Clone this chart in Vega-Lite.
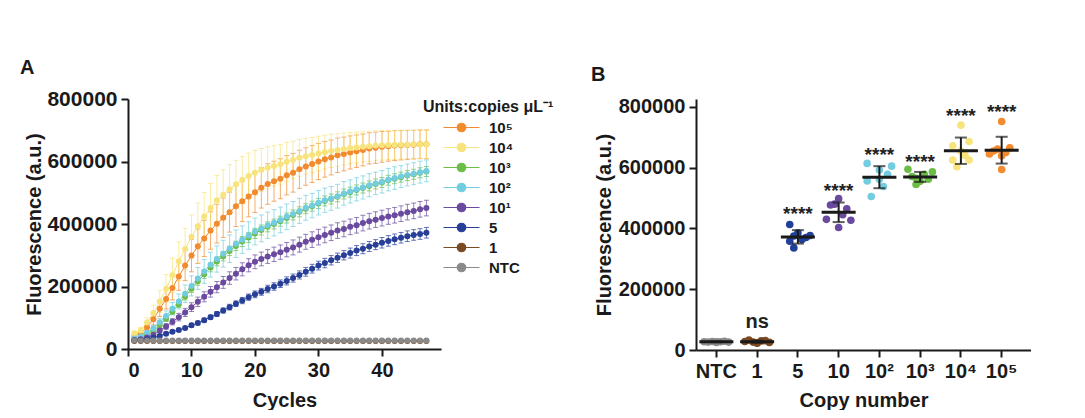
{
  "$schema": "https://vega.github.io/schema/vega-lite/v6.json",
  "background": "white",
  "padding": {"left": 20, "top": 58, "right": 0, "bottom": 0},
  "spacing": 37,
  "datasets": {
    "curves": [
      {"s":"10⁵","c":1,"v":42000,"e":5000},{"s":"10⁵","c":2,"v":50000,"e":8000},{"s":"10⁵","c":3,"v":70000,"e":12000},{"s":"10⁵","c":4,"v":95000,"e":18000},{"s":"10⁵","c":5,"v":129000,"e":25000},{"s":"10⁵","c":6,"v":160000,"e":32000},{"s":"10⁵","c":7,"v":195000,"e":38000},{"s":"10⁵","c":8,"v":232000,"e":44000},{"s":"10⁵","c":9,"v":267000,"e":48000},{"s":"10⁵","c":10,"v":299000,"e":52000},
      {"s":"10⁵","c":11,"v":329000,"e":55000},{"s":"10⁵","c":12,"v":354000,"e":58000},{"s":"10⁵","c":13,"v":379000,"e":60000},{"s":"10⁵","c":14,"v":401000,"e":62000},{"s":"10⁵","c":15,"v":420000,"e":63000},{"s":"10⁵","c":16,"v":438000,"e":64000},{"s":"10⁵","c":17,"v":457000,"e":65000},{"s":"10⁵","c":18,"v":473000,"e":65000},{"s":"10⁵","c":19,"v":488000,"e":65000},{"s":"10⁵","c":20,"v":502000,"e":65000},
      {"s":"10⁵","c":21,"v":516000,"e":65000},{"s":"10⁵","c":22,"v":528000,"e":65000},{"s":"10⁵","c":23,"v":537000,"e":64000},{"s":"10⁵","c":24,"v":545000,"e":64000},{"s":"10⁵","c":25,"v":556000,"e":63000},{"s":"10⁵","c":26,"v":564000,"e":62000},{"s":"10⁵","c":27,"v":575000,"e":61000},{"s":"10⁵","c":28,"v":584000,"e":60000},{"s":"10⁵","c":29,"v":592000,"e":59000},{"s":"10⁵","c":30,"v":600000,"e":58000},
      {"s":"10⁵","c":31,"v":607000,"e":57000},{"s":"10⁵","c":32,"v":613000,"e":56000},{"s":"10⁵","c":33,"v":620000,"e":55000},{"s":"10⁵","c":34,"v":624000,"e":54000},{"s":"10⁵","c":35,"v":629000,"e":53000},{"s":"10⁵","c":36,"v":633000,"e":52000},{"s":"10⁵","c":37,"v":637000,"e":51000},{"s":"10⁵","c":38,"v":642000,"e":50000},{"s":"10⁵","c":39,"v":644000,"e":50000},{"s":"10⁵","c":40,"v":647000,"e":49000},
      {"s":"10⁵","c":41,"v":649000,"e":48000},{"s":"10⁵","c":42,"v":651000,"e":48000},{"s":"10⁵","c":43,"v":652000,"e":47000},{"s":"10⁵","c":44,"v":653000,"e":47000},{"s":"10⁵","c":45,"v":654000,"e":46000},{"s":"10⁵","c":46,"v":655000,"e":46000},{"s":"10⁵","c":47,"v":655000,"e":46000},

      {"s":"10⁴","c":1,"v":50000,"e":8000},{"s":"10⁴","c":2,"v":59000,"e":10000},{"s":"10⁴","c":3,"v":85000,"e":15000},{"s":"10⁴","c":4,"v":115000,"e":25000},{"s":"10⁴","c":5,"v":152000,"e":35000},{"s":"10⁴","c":6,"v":193000,"e":45000},{"s":"10⁴","c":7,"v":236000,"e":55000},{"s":"10⁴","c":8,"v":281000,"e":62000},{"s":"10⁴","c":9,"v":320000,"e":66000},{"s":"10⁴","c":10,"v":359000,"e":70000},
      {"s":"10⁴","c":11,"v":393000,"e":74000},{"s":"10⁴","c":12,"v":424000,"e":77000},{"s":"10⁴","c":13,"v":451000,"e":79000},{"s":"10⁴","c":14,"v":476000,"e":80000},{"s":"10⁴","c":15,"v":494000,"e":80000},{"s":"10⁴","c":16,"v":511000,"e":79000},{"s":"10⁴","c":17,"v":527000,"e":77000},{"s":"10⁴","c":18,"v":541000,"e":75000},{"s":"10⁴","c":19,"v":554000,"e":73000},{"s":"10⁴","c":20,"v":564000,"e":71000},
      {"s":"10⁴","c":21,"v":573000,"e":69000},{"s":"10⁴","c":22,"v":580000,"e":67000},{"s":"10⁴","c":23,"v":586000,"e":65000},{"s":"10⁴","c":24,"v":591000,"e":63000},{"s":"10⁴","c":25,"v":599000,"e":62000},{"s":"10⁴","c":26,"v":605000,"e":60000},{"s":"10⁴","c":27,"v":612000,"e":59000},{"s":"10⁴","c":28,"v":617000,"e":57000},{"s":"10⁴","c":29,"v":621000,"e":56000},{"s":"10⁴","c":30,"v":626000,"e":55000},
      {"s":"10⁴","c":31,"v":630000,"e":54000},{"s":"10⁴","c":32,"v":634000,"e":53000},{"s":"10⁴","c":33,"v":637000,"e":52000},{"s":"10⁴","c":34,"v":640000,"e":51000},{"s":"10⁴","c":35,"v":643000,"e":50000},{"s":"10⁴","c":36,"v":645000,"e":49000},{"s":"10⁴","c":37,"v":647000,"e":48000},{"s":"10⁴","c":38,"v":649000,"e":48000},{"s":"10⁴","c":39,"v":651000,"e":47000},{"s":"10⁴","c":40,"v":652000,"e":47000},
      {"s":"10⁴","c":41,"v":653000,"e":46000},{"s":"10⁴","c":42,"v":653000,"e":46000},{"s":"10⁴","c":43,"v":654000,"e":46000},{"s":"10⁴","c":44,"v":654000,"e":45000},{"s":"10⁴","c":45,"v":655000,"e":45000},{"s":"10⁴","c":46,"v":655000,"e":45000},{"s":"10⁴","c":47,"v":655000,"e":45000},

      {"s":"10³","c":1,"v":30000,"e":2000},{"s":"10³","c":2,"v":35000,"e":3000},{"s":"10³","c":3,"v":45000,"e":4000},{"s":"10³","c":4,"v":58000,"e":5000},{"s":"10³","c":5,"v":77000,"e":7000},{"s":"10³","c":6,"v":97000,"e":8000},{"s":"10³","c":7,"v":120000,"e":9000},{"s":"10³","c":8,"v":143000,"e":10000},{"s":"10³","c":9,"v":168000,"e":11000},{"s":"10³","c":10,"v":193000,"e":12000},
      {"s":"10³","c":11,"v":217000,"e":13000},{"s":"10³","c":12,"v":239000,"e":13000},{"s":"10³","c":13,"v":261000,"e":14000},{"s":"10³","c":14,"v":280000,"e":14000},{"s":"10³","c":15,"v":297000,"e":15000},{"s":"10³","c":16,"v":314000,"e":15000},{"s":"10³","c":17,"v":330000,"e":15000},{"s":"10³","c":18,"v":344000,"e":16000},{"s":"10³","c":19,"v":357000,"e":16000},{"s":"10³","c":20,"v":370000,"e":16000},
      {"s":"10³","c":21,"v":381000,"e":16000},{"s":"10³","c":22,"v":391000,"e":16000},{"s":"10³","c":23,"v":400000,"e":16000},{"s":"10³","c":24,"v":409000,"e":16000},{"s":"10³","c":25,"v":419000,"e":16000},{"s":"10³","c":26,"v":429000,"e":16000},{"s":"10³","c":27,"v":439000,"e":16000},{"s":"10³","c":28,"v":449000,"e":16000},{"s":"10³","c":29,"v":457000,"e":16000},{"s":"10³","c":30,"v":466000,"e":16000},
      {"s":"10³","c":31,"v":474000,"e":16000},{"s":"10³","c":32,"v":480000,"e":16000},{"s":"10³","c":33,"v":487000,"e":16000},{"s":"10³","c":34,"v":496000,"e":16000},{"s":"10³","c":35,"v":502000,"e":16000},{"s":"10³","c":36,"v":509000,"e":16000},{"s":"10³","c":37,"v":515000,"e":16000},{"s":"10³","c":38,"v":522000,"e":16000},{"s":"10³","c":39,"v":528000,"e":16000},{"s":"10³","c":40,"v":533000,"e":16000},
      {"s":"10³","c":41,"v":540000,"e":16000},{"s":"10³","c":42,"v":545000,"e":16000},{"s":"10³","c":43,"v":550000,"e":16000},{"s":"10³","c":44,"v":555000,"e":16000},{"s":"10³","c":45,"v":559000,"e":16000},{"s":"10³","c":46,"v":564000,"e":16000},{"s":"10³","c":47,"v":568000,"e":16000},

      {"s":"10²","c":1,"v":34000,"e":3000},{"s":"10²","c":2,"v":40000,"e":4000},{"s":"10²","c":3,"v":52000,"e":6000},{"s":"10²","c":4,"v":66000,"e":9000},{"s":"10²","c":5,"v":86000,"e":12000},{"s":"10²","c":6,"v":106000,"e":16000},{"s":"10²","c":7,"v":129000,"e":20000},{"s":"10²","c":8,"v":152000,"e":24000},{"s":"10²","c":9,"v":177000,"e":28000},{"s":"10²","c":10,"v":202000,"e":32000},
      {"s":"10²","c":11,"v":226000,"e":35000},{"s":"10²","c":12,"v":248000,"e":38000},{"s":"10²","c":13,"v":270000,"e":40000},{"s":"10²","c":14,"v":288000,"e":42000},{"s":"10²","c":15,"v":305000,"e":43000},{"s":"10²","c":16,"v":321000,"e":44000},{"s":"10²","c":17,"v":337000,"e":44000},{"s":"10²","c":18,"v":350000,"e":44000},{"s":"10²","c":19,"v":363000,"e":44000},{"s":"10²","c":20,"v":376000,"e":43000},
      {"s":"10²","c":21,"v":386000,"e":43000},{"s":"10²","c":22,"v":396000,"e":42000},{"s":"10²","c":23,"v":404000,"e":42000},{"s":"10²","c":24,"v":413000,"e":41000},{"s":"10²","c":25,"v":423000,"e":41000},{"s":"10²","c":26,"v":432000,"e":40000},{"s":"10²","c":27,"v":442000,"e":40000},{"s":"10²","c":28,"v":452000,"e":40000},{"s":"10²","c":29,"v":459000,"e":39000},{"s":"10²","c":30,"v":468000,"e":39000},
      {"s":"10²","c":31,"v":476000,"e":39000},{"s":"10²","c":32,"v":482000,"e":38000},{"s":"10²","c":33,"v":489000,"e":38000},{"s":"10²","c":34,"v":498000,"e":38000},{"s":"10²","c":35,"v":504000,"e":37000},{"s":"10²","c":36,"v":511000,"e":37000},{"s":"10²","c":37,"v":517000,"e":37000},{"s":"10²","c":38,"v":524000,"e":37000},{"s":"10²","c":39,"v":530000,"e":36000},{"s":"10²","c":40,"v":535000,"e":36000},
      {"s":"10²","c":41,"v":542000,"e":36000},{"s":"10²","c":42,"v":547000,"e":36000},{"s":"10²","c":43,"v":552000,"e":35000},{"s":"10²","c":44,"v":557000,"e":35000},{"s":"10²","c":45,"v":561000,"e":35000},{"s":"10²","c":46,"v":566000,"e":35000},{"s":"10²","c":47,"v":570000,"e":35000},

      {"s":"10¹","c":1,"v":29000,"e":2000},{"s":"10¹","c":2,"v":31000,"e":3000},{"s":"10¹","c":3,"v":37000,"e":4000},{"s":"10¹","c":4,"v":45000,"e":5000},{"s":"10¹","c":5,"v":59000,"e":7000},{"s":"10¹","c":6,"v":72000,"e":9000},{"s":"10¹","c":7,"v":87000,"e":10000},{"s":"10¹","c":8,"v":102000,"e":12000},{"s":"10¹","c":9,"v":117000,"e":13000},{"s":"10¹","c":10,"v":134000,"e":14000},
      {"s":"10¹","c":11,"v":151000,"e":15000},{"s":"10¹","c":12,"v":167000,"e":16000},{"s":"10¹","c":13,"v":183000,"e":17000},{"s":"10¹","c":14,"v":198000,"e":18000},{"s":"10¹","c":15,"v":213000,"e":19000},{"s":"10¹","c":16,"v":227000,"e":20000},{"s":"10¹","c":17,"v":241000,"e":20000},{"s":"10¹","c":18,"v":255000,"e":21000},{"s":"10¹","c":19,"v":268000,"e":21000},{"s":"10¹","c":20,"v":279000,"e":22000},
      {"s":"10¹","c":21,"v":288000,"e":22000},{"s":"10¹","c":22,"v":296000,"e":22000},{"s":"10¹","c":23,"v":303000,"e":23000},{"s":"10¹","c":24,"v":310000,"e":23000},{"s":"10¹","c":25,"v":318000,"e":23000},{"s":"10¹","c":26,"v":325000,"e":24000},{"s":"10¹","c":27,"v":334000,"e":24000},{"s":"10¹","c":28,"v":343000,"e":24000},{"s":"10¹","c":29,"v":350000,"e":25000},{"s":"10¹","c":30,"v":358000,"e":25000},
      {"s":"10¹","c":31,"v":365000,"e":25000},{"s":"10¹","c":32,"v":372000,"e":25000},{"s":"10¹","c":33,"v":379000,"e":25000},{"s":"10¹","c":34,"v":384000,"e":25000},{"s":"10¹","c":35,"v":391000,"e":25000},{"s":"10¹","c":36,"v":396000,"e":25000},{"s":"10¹","c":37,"v":403000,"e":25000},{"s":"10¹","c":38,"v":409000,"e":25000},{"s":"10¹","c":39,"v":414000,"e":25000},{"s":"10¹","c":40,"v":419000,"e":25000},
      {"s":"10¹","c":41,"v":424000,"e":25000},{"s":"10¹","c":42,"v":428000,"e":25000},{"s":"10¹","c":43,"v":433000,"e":25000},{"s":"10¹","c":44,"v":438000,"e":25000},{"s":"10¹","c":45,"v":442000,"e":25000},{"s":"10¹","c":46,"v":447000,"e":25000},{"s":"10¹","c":47,"v":451000,"e":25000},

      {"s":"5","c":1,"v":27000,"e":1000},{"s":"5","c":2,"v":28000,"e":2000},{"s":"5","c":3,"v":31000,"e":2000},{"s":"5","c":4,"v":36000,"e":3000},{"s":"5","c":5,"v":42000,"e":3000},{"s":"5","c":6,"v":49000,"e":4000},{"s":"5","c":7,"v":55000,"e":4000},{"s":"5","c":8,"v":61000,"e":5000},{"s":"5","c":9,"v":67000,"e":5000},{"s":"5","c":10,"v":76000,"e":6000},
      {"s":"5","c":11,"v":83000,"e":6000},{"s":"5","c":12,"v":92000,"e":7000},{"s":"5","c":13,"v":102000,"e":7000},{"s":"5","c":14,"v":112000,"e":8000},{"s":"5","c":15,"v":123000,"e":8000},{"s":"5","c":16,"v":134000,"e":9000},{"s":"5","c":17,"v":145000,"e":9000},{"s":"5","c":18,"v":155000,"e":10000},{"s":"5","c":19,"v":166000,"e":10000},{"s":"5","c":20,"v":175000,"e":11000},
      {"s":"5","c":21,"v":183000,"e":11000},{"s":"5","c":22,"v":192000,"e":12000},{"s":"5","c":23,"v":200000,"e":12000},{"s":"5","c":24,"v":209000,"e":12000},{"s":"5","c":25,"v":218000,"e":13000},{"s":"5","c":26,"v":227000,"e":13000},{"s":"5","c":27,"v":237000,"e":13000},{"s":"5","c":28,"v":247000,"e":14000},{"s":"5","c":29,"v":257000,"e":14000},{"s":"5","c":30,"v":267000,"e":14000},
      {"s":"5","c":31,"v":275000,"e":15000},{"s":"5","c":32,"v":284000,"e":15000},{"s":"5","c":33,"v":292000,"e":15000},{"s":"5","c":34,"v":300000,"e":15000},{"s":"5","c":35,"v":307000,"e":16000},{"s":"5","c":36,"v":315000,"e":16000},{"s":"5","c":37,"v":321000,"e":16000},{"s":"5","c":38,"v":328000,"e":16000},{"s":"5","c":39,"v":334000,"e":16000},{"s":"5","c":40,"v":340000,"e":17000},
      {"s":"5","c":41,"v":346000,"e":17000},{"s":"5","c":42,"v":351000,"e":17000},{"s":"5","c":43,"v":356000,"e":17000},{"s":"5","c":44,"v":361000,"e":17000},{"s":"5","c":45,"v":365000,"e":17000},{"s":"5","c":46,"v":368000,"e":17000},{"s":"5","c":47,"v":372000,"e":17000},

      {"s":"1","c":1,"v":26000,"e":2000},{"s":"1","c":2,"v":26000,"e":2000},{"s":"1","c":3,"v":26000,"e":2000},{"s":"1","c":4,"v":26000,"e":2000},{"s":"1","c":5,"v":26000,"e":2000},{"s":"1","c":6,"v":26000,"e":2000},{"s":"1","c":7,"v":26000,"e":2000},{"s":"1","c":8,"v":26000,"e":2000},{"s":"1","c":9,"v":26000,"e":2000},{"s":"1","c":10,"v":26000,"e":2000},
      {"s":"1","c":11,"v":26000,"e":2000},{"s":"1","c":12,"v":26000,"e":2000},{"s":"1","c":13,"v":26000,"e":2000},{"s":"1","c":14,"v":26000,"e":2000},{"s":"1","c":15,"v":26000,"e":2000},{"s":"1","c":16,"v":26000,"e":2000},{"s":"1","c":17,"v":26000,"e":2000},{"s":"1","c":18,"v":26000,"e":2000},{"s":"1","c":19,"v":26000,"e":2000},{"s":"1","c":20,"v":26000,"e":2000},
      {"s":"1","c":21,"v":26000,"e":2000},{"s":"1","c":22,"v":26000,"e":2000},{"s":"1","c":23,"v":26000,"e":2000},{"s":"1","c":24,"v":26000,"e":2000},{"s":"1","c":25,"v":26000,"e":2000},{"s":"1","c":26,"v":26000,"e":2000},{"s":"1","c":27,"v":26000,"e":2000},{"s":"1","c":28,"v":26000,"e":2000},{"s":"1","c":29,"v":26000,"e":2000},{"s":"1","c":30,"v":26000,"e":2000},
      {"s":"1","c":31,"v":26000,"e":2000},{"s":"1","c":32,"v":26000,"e":2000},{"s":"1","c":33,"v":26000,"e":2000},{"s":"1","c":34,"v":26000,"e":2000},{"s":"1","c":35,"v":26000,"e":2000},{"s":"1","c":36,"v":26000,"e":2000},{"s":"1","c":37,"v":26000,"e":2000},{"s":"1","c":38,"v":26000,"e":2000},{"s":"1","c":39,"v":26000,"e":2000},{"s":"1","c":40,"v":26000,"e":2000},
      {"s":"1","c":41,"v":26000,"e":2000},{"s":"1","c":42,"v":26000,"e":2000},{"s":"1","c":43,"v":26000,"e":2000},{"s":"1","c":44,"v":26000,"e":2000},{"s":"1","c":45,"v":26000,"e":2000},{"s":"1","c":46,"v":26000,"e":2000},{"s":"1","c":47,"v":26000,"e":2000},

      {"s":"NTC","c":1,"v":27000,"e":1500},{"s":"NTC","c":2,"v":27000,"e":1500},{"s":"NTC","c":3,"v":27000,"e":1500},{"s":"NTC","c":4,"v":27000,"e":1500},{"s":"NTC","c":5,"v":27000,"e":1500},{"s":"NTC","c":6,"v":27000,"e":1500},{"s":"NTC","c":7,"v":27000,"e":1500},{"s":"NTC","c":8,"v":27000,"e":1500},{"s":"NTC","c":9,"v":27000,"e":1500},{"s":"NTC","c":10,"v":27000,"e":1500},
      {"s":"NTC","c":11,"v":27000,"e":1500},{"s":"NTC","c":12,"v":27000,"e":1500},{"s":"NTC","c":13,"v":27000,"e":1500},{"s":"NTC","c":14,"v":27000,"e":1500},{"s":"NTC","c":15,"v":27000,"e":1500},{"s":"NTC","c":16,"v":27000,"e":1500},{"s":"NTC","c":17,"v":27000,"e":1500},{"s":"NTC","c":18,"v":27000,"e":1500},{"s":"NTC","c":19,"v":27000,"e":1500},{"s":"NTC","c":20,"v":27000,"e":1500},
      {"s":"NTC","c":21,"v":27000,"e":1500},{"s":"NTC","c":22,"v":27000,"e":1500},{"s":"NTC","c":23,"v":27000,"e":1500},{"s":"NTC","c":24,"v":27000,"e":1500},{"s":"NTC","c":25,"v":27000,"e":1500},{"s":"NTC","c":26,"v":27000,"e":1500},{"s":"NTC","c":27,"v":27000,"e":1500},{"s":"NTC","c":28,"v":27000,"e":1500},{"s":"NTC","c":29,"v":27000,"e":1500},{"s":"NTC","c":30,"v":27000,"e":1500},
      {"s":"NTC","c":31,"v":27000,"e":1500},{"s":"NTC","c":32,"v":27000,"e":1500},{"s":"NTC","c":33,"v":27000,"e":1500},{"s":"NTC","c":34,"v":27000,"e":1500},{"s":"NTC","c":35,"v":27000,"e":1500},{"s":"NTC","c":36,"v":27000,"e":1500},{"s":"NTC","c":37,"v":27000,"e":1500},{"s":"NTC","c":38,"v":27000,"e":1500},{"s":"NTC","c":39,"v":27000,"e":1500},{"s":"NTC","c":40,"v":27000,"e":1500},
      {"s":"NTC","c":41,"v":27000,"e":1500},{"s":"NTC","c":42,"v":27000,"e":1500},{"s":"NTC","c":43,"v":27000,"e":1500},{"s":"NTC","c":44,"v":27000,"e":1500},{"s":"NTC","c":45,"v":27000,"e":1500},{"s":"NTC","c":46,"v":27000,"e":1500},{"s":"NTC","c":47,"v":27000,"e":1500}
    ],
    "scatter": [
      {"g":"NTC","r":2,"v":27000},{"g":"NTC","r":3,"v":26000},{"g":"NTC","r":4,"v":28000},{"g":"NTC","r":5,"v":25000},{"g":"NTC","r":6,"v":27000},{"g":"NTC","r":7,"v":29000},{"g":"NTC","r":8,"v":26000},{"g":"NTC","r":5,"v":27000},
      {"g":"1","r":3,"v":33000},{"g":"1","r":7,"v":31000},{"g":"1","r":5,"v":22000},{"g":"1","r":4,"v":26000},{"g":"1","r":6,"v":30000},{"g":"1","r":5,"v":24000},{"g":"1","r":2,"v":28000},{"g":"1","r":8,"v":25000},
      {"g":"5","r":3,"v":413000},{"g":"5","r":5,"v":385000},{"g":"5","r":4,"v":375000},{"g":"5","r":6,"v":364000},{"g":"5","r":3,"v":358000},{"g":"5","r":4,"v":336000},{"g":"5","r":8,"v":377000},{"g":"5","r":7,"v":370000},
      {"g":"10","r":5,"v":498000},{"g":"10","r":3,"v":477000},{"g":"10","r":7,"v":465000},{"g":"10","r":2,"v":430000},{"g":"10","r":8,"v":427000},{"g":"10","r":5,"v":403000},{"g":"10","r":4,"v":480000},{"g":"10","r":6,"v":445000},
      {"g":"10²","r":2,"v":614000},{"g":"10²","r":8,"v":605000},{"g":"10²","r":5,"v":592000},{"g":"10²","r":7,"v":578000},{"g":"10²","r":2,"v":556000},{"g":"10²","r":6,"v":538000},{"g":"10²","r":3,"v":505000},{"g":"10²","r":5,"v":562000},
      {"g":"10³","r":2,"v":595000},{"g":"10³","r":8,"v":586000},{"g":"10³","r":6,"v":578000},{"g":"10³","r":3,"v":571000},{"g":"10³","r":7,"v":562000},{"g":"10³","r":4,"v":545000},{"g":"10³","r":5,"v":555000},{"g":"10³","r":4,"v":565000},
      {"g":"10⁴","r":5,"v":740000},{"g":"10⁴","r":7,"v":686000},{"g":"10⁴","r":3,"v":672000},{"g":"10⁴","r":5,"v":655000},{"g":"10⁴","r":3,"v":625000},{"g":"10⁴","r":7,"v":625000},{"g":"10⁴","r":4,"v":603000},{"g":"10⁴","r":6,"v":640000},
      {"g":"10⁵","r":5,"v":752000},{"g":"10⁵","r":4,"v":661000},{"g":"10⁵","r":6,"v":650000},{"g":"10⁵","r":5,"v":639000},{"g":"10⁵","r":3,"v":655000},{"g":"10⁵","r":7,"v":665000},{"g":"10⁵","r":5,"v":594000},{"g":"10⁵","r":2,"v":645000}
    ],
    "stars": [
      {"g":"5","t":"****","v":427000},{"g":"10","t":"****","v":502000},{"g":"10²","t":"****","v":621000},{"g":"10³","t":"****","v":600000},{"g":"10⁴","t":"****","v":749000},{"g":"10⁵","t":"****","v":765000}
    ],
    "ns": [
      {"g":"1","t":"ns","v":74000}
    ]
  },
  "hconcat": [
    {
      "name": "pa",
      "width": 313,
      "height": 250,
      "title": {"text": "A", "anchor": "start", "frame": "group", "dx": -108, "offset": 10, "fontSize": 20, "font": "Liberation Sans", "fontWeight": "bold", "color": "#1a1a1a"},
      "data": {"name": "curves"},
      "encoding": {
        "x": {"field": "c", "type": "quantitative", "scale": {"domain": [0, 49.3], "nice": false, "zero": false},
              "axis": {"title": "Cycles", "values": [0, 10, 20, 30, 40], "titlePadding": 10}},
        "y": {"field": "v", "type": "quantitative", "scale": {"domain": [0, 800000], "nice": false},
              "axis": {"title": "Fluorescence (a.u.)", "values": [0, 200000, 400000, 600000, 800000], "format": "d", "labelFontSize": 21, "titlePadding": 2}},
        "color": {"field": "s", "type": "nominal",
                  "scale": {"domain": ["10⁵","10⁴","10³","10²","10¹","5","1","NTC"], "range": ["#F28A2E","#F8E47C","#6CBD45","#72CDE0","#6A4A9E","#283F98","#7A4A22","#8A8A8A"]},
                  "legend": {"title": "Units:copies μL⁻¹", "orient": "right", "offset": -18, "padding": 0,
                             "symbolType": "M-3.6,0H3.6M-0.85,0a0.85,0.85 0 1,0 1.7,0a0.85,0.85 0 1,0 -1.7,0",
                             "symbolSize": 100, "symbolStrokeWidth": 1.2, "symbolOffset": 31, "labelOffset": 20, "titlePadding": 5, "rowPadding": 4,
                             "encode": {"symbols": {"update": {"fill": {"scale": "pa_color", "field": "value"}, "stroke": {"scale": "pa_color", "field": "value"}, "strokeWidth": {"value": 1.2}, "opacity": {"value": 1}}}}}}
      },
      "layer": [
        {
          "mark": {"type": "errorbar", "ticks": {"size": 5, "opacity": 0.7}, "rule": {"opacity": 0.7, "strokeWidth": 1}},
          "encoding": {"yError": {"field": "e"}}
        },
        {
          "mark": {"type": "line", "strokeWidth": 1}
        },
        {
          "mark": {"type": "point", "filled": true, "shape": "circle", "size": 36, "strokeWidth": 1, "opacity": 1}
        }
      ]
    },
    {
      "width": 335,
      "height": 251,
      "title": {"text": "B", "anchor": "start", "frame": "group", "dx": -105, "offset": 12, "fontSize": 20, "font": "Liberation Sans", "fontWeight": "bold", "color": "#1a1a1a"},
      "encoding": {
        "x": {"field": "g", "type": "nominal",
              "scale": {"type": "band", "domain": ["NTC","1","5","10","10²","10³","10⁴","10⁵"], "paddingInner": 0, "paddingOuter": 0.11, "align": 0},
              "axis": {"title": "Copy number", "labelAngle": 0, "titlePadding": 9}}
      },
      "layer": [
        {
          "data": {"name": "scatter"},
          "mark": {"type": "point", "filled": true, "shape": "circle", "size": 58, "opacity": 1, "strokeWidth": 0},
          "encoding": {
            "xOffset": {"field": "r", "type": "ordinal", "scale": {"domain": [1,2,3,4,5,6,7,8,9], "paddingOuter": 1.85, "paddingInner": 0}},
            "y": {"field": "v", "type": "quantitative", "title": "Fluorescence (a.u.)", "scale": {"domain": [0, 826000], "nice": false},
                  "axis": {"values": [0, 200000, 400000, 600000, 800000], "format": "d", "labelFontSize": 20, "titlePadding": 4}},
            "color": {"field": "g", "type": "nominal", "legend": null,
                      "scale": {"domain": ["NTC","1","5","10","10²","10³","10⁴","10⁵"], "range": ["#8A8A8A","#7A4A22","#21409A","#6A4A9E","#72CDE0","#6CBD45","#F8E47C","#F28A2E"]}}
          }
        },
        {
          "data": {"name": "scatter"},
          "mark": {"type": "tick", "size": 34, "thickness": 3, "color": "#1a1a1a"},
          "encoding": {
            "y": {"aggregate": "mean", "field": "v", "type": "quantitative", "title": "Fluorescence (a.u.)"}
          }
        },
        {
          "data": {"name": "scatter"},
          "mark": {"type": "errorbar", "extent": "stdev", "color": "#1a1a1a", "thickness": 2, "ticks": {"size": 12, "thickness": 2, "color": "#1a1a1a"}},
          "encoding": {
            "y": {"field": "v", "type": "quantitative", "title": "Fluorescence (a.u.)"}
          }
        },
        {
          "data": {"name": "stars"},
          "mark": {"type": "text", "fontSize": 19, "fontWeight": "bold", "font": "Liberation Sans", "baseline": "alphabetic", "color": "#222222"},
          "encoding": {
            "y": {"field": "v", "type": "quantitative", "title": "Fluorescence (a.u.)"},
            "text": {"field": "t"}
          }
        },
        {
          "data": {"name": "ns"},
          "mark": {"type": "text", "fontSize": 20, "fontWeight": "bold", "font": "Liberation Sans", "baseline": "alphabetic", "color": "#222222"},
          "encoding": {
            "y": {"field": "v", "type": "quantitative", "title": "Fluorescence (a.u.)"},
            "text": {"field": "t"}
          }
        }
      ]
    }
  ],
  "resolve": {"scale": {"color": "independent", "x": "independent", "y": "independent"}, "legend": {"color": "independent"}},
  "config": {
    "view": {"stroke": null},
    "font": "Liberation Sans",
    "axis": {
      "grid": false, "domainColor": "#1a1a1a", "domainWidth": 2, "tickColor": "#1a1a1a", "tickWidth": 2, "tickSize": 7,
      "labelFont": "Liberation Sans", "labelFontWeight": "bold", "labelFontSize": 20, "labelColor": "#1a1a1a", "labelPadding": 4,
      "titleFont": "Liberation Sans", "titleFontWeight": "bold", "titleFontSize": 20, "titleColor": "#1a1a1a"
    },
    "legend": {
      "labelFont": "Liberation Sans", "labelFontWeight": "bold", "labelFontSize": 15, "labelColor": "#1a1a1a",
      "titleFont": "Liberation Sans", "titleFontWeight": "bold", "titleFontSize": 16, "titleColor": "#1a1a1a", "titleLimit": 300
    }
  }
}
